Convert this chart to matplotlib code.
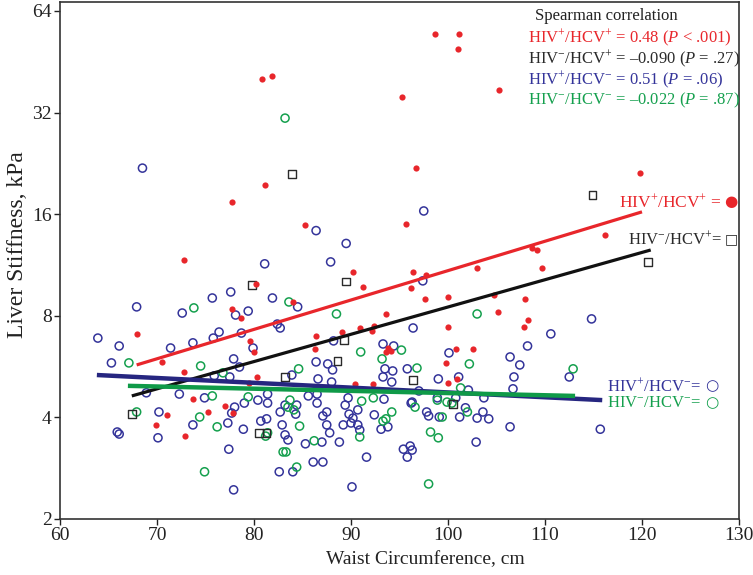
import matplotlib
matplotlib.use('Agg')
import matplotlib.pyplot as plt

plt.rcParams['font.family'] = ['Liberation Serif', 'DejaVu Sans']
plt.rcParams['mathtext.fontset'] = 'custom'
plt.rcParams['mathtext.rm'] = 'Liberation Serif'
plt.rcParams['mathtext.it'] = 'Liberation Serif:italic'
plt.rcParams['mathtext.bf'] = 'Liberation Serif:bold'

# HIV+/HCV+ (red dots): waist cm, liver stiffness kPa
pp_waist = [80.8, 81.9, 95.3, 98.7, 101.1, 101.0, 105.3, 81.1, 77.7, 96.7, 119.8, 85.3,
            95.7, 116.2, 72.8, 90.2, 96.4, 103.0, 109.7, 97.7, 108.7, 109.2, 91.2, 80.2,
            84.0, 77.7, 78.7, 67.9, 79.6, 80.0, 93.6, 86.4, 86.3, 89.1, 90.9, 92.4,
            92.2, 93.8, 94.1, 93.6, 70.5, 72.8, 80.3, 79.5, 90.4, 92.3, 73.7, 77.0,
            75.3, 77.8, 71.0, 69.9, 72.9, 96.2, 97.6, 100.0, 100.0, 104.7, 105.2, 107.9,
            108.2, 107.8, 100.8, 102.6, 99.8, 100.9, 100.0]
pp_ls = [40.3, 41.1, 35.6, 54.7, 54.7, 49.4, 37.3, 19.5, 17.4, 21.9, 21.2, 14.9,
         15.0, 13.9, 11.7, 10.8, 10.8, 11.1, 11.1, 10.6, 12.7, 12.5, 9.74, 9.94,
         8.79, 8.38, 7.88, 7.07, 6.74, 6.25, 8.10, 6.97, 6.38, 7.16, 7.36, 7.46,
         7.21, 6.42, 6.29, 6.25, 5.84, 5.45, 5.27, 5.06, 5.02, 5.02, 4.53, 4.32,
         4.15, 4.12, 4.07, 3.80, 3.52, 9.67, 8.97, 9.09, 7.41, 9.22, 8.21, 8.97,
         7.77, 7.41, 6.38, 6.38, 5.80, 5.20, 5.06]

# HIV-/HCV+ (black squares)
np_waist = [83.9, 114.9, 120.6, 89.5, 79.8, 89.3, 88.6, 83.2, 67.4, 80.5, 81.3, 96.4, 100.5]
np_ls = [21.05, 18.2, 11.55, 10.1, 9.87, 6.78, 5.88, 5.27, 4.09, 3.60, 3.60, 5.16, 4.38]

# HIV+/HCV- (blue circles)
pn_waist = [68.5, 97.5, 86.4, 89.5, 87.9, 81.1, 63.9, 66.1, 65.3, 67.9, 72.6, 75.7,
            77.6, 78.1, 79.4, 81.9, 84.5, 76.4, 75.8, 73.7, 71.4, 78.7, 79.9, 82.4,
            82.7, 77.9, 78.5, 75.9, 77.5, 83.9, 88.2, 86.4, 87.6, 88.1, 86.6, 88.0,
            93.3, 94.4, 93.5, 94.3, 94.2, 93.3, 68.9, 72.3, 74.9, 81.4, 79.0, 80.4,
            81.4, 85.6, 86.5, 84.4, 83.2, 82.7, 84.3, 87.5, 87.1, 89.4, 89.8, 90.7,
            90.2, 92.4, 89.7, 70.2, 78.0, 77.7, 77.3, 73.7, 80.7, 81.3, 78.9, 82.9,
            87.5, 89.2, 90.0, 90.7, 90.9, 93.1, 93.8, 83.2, 83.5, 85.3, 87.0, 87.8,
            88.8, 65.9, 66.1, 70.1, 77.4, 86.1, 87.1, 82.6, 84.0, 91.6, 77.9, 90.1,
            95.4, 96.1, 96.3, 95.8, 97.4, 96.4, 100.1, 108.2, 110.6, 114.8, 106.4, 107.4,
            106.8, 106.7, 112.5, 95.8, 99.0, 101.1, 102.1, 103.7, 100.8, 96.2, 97.8, 98.0,
            98.9, 99.1, 101.2, 101.8, 103.0, 103.6, 104.2, 106.4, 102.9, 115.7, 97.0, 96.3,
            86.5, 93.4]
pn_ls = [21.9, 16.35, 14.3, 13.1, 11.55, 11.4, 6.87, 6.51, 5.80, 8.50, 8.15, 9.03,
         9.41, 8.04, 8.26, 9.03, 8.50, 7.16, 6.87, 6.65, 6.42, 7.11, 6.42, 7.56,
         7.36, 5.96, 5.64, 5.31, 5.27, 5.34, 6.74, 5.84, 5.76, 5.53, 5.20, 5.09,
         6.60, 6.51, 5.57, 5.49, 5.09, 5.27, 4.73, 4.69, 4.57, 4.69, 4.41, 4.50,
         4.41, 4.63, 4.41, 4.35, 4.35, 4.15, 4.09, 4.15, 4.04, 4.35, 4.09, 4.21,
         3.98, 4.07, 4.57, 4.15, 4.29, 4.12, 3.85, 3.80, 3.90, 3.96, 3.69, 3.80,
         3.80, 3.80, 3.85, 3.80, 3.67, 3.69, 3.75, 3.55, 3.43, 3.34, 3.38, 3.60,
         3.38, 3.62, 3.57, 3.48, 3.22, 2.95, 2.95, 2.76, 2.76, 3.05, 2.44, 2.49,
         3.22, 3.29, 3.20, 3.05, 10.15, 7.36, 6.21, 6.51, 7.07, 7.83, 6.04, 5.72,
         5.27, 4.86, 5.27, 5.57, 5.20, 5.27, 4.82, 4.57, 4.57, 4.41, 4.15, 4.04,
         4.57, 4.01, 4.01, 4.27, 3.98, 4.15, 3.96, 3.75, 3.38, 3.69, 4.79, 4.44,
         4.69, 4.53]

# HIV-/HCV- (green circles)
nn_waist = [83.2, 73.8, 83.6, 88.5, 67.1, 74.5, 84.6, 76.8, 91.0, 93.2, 95.2, 67.9,
            75.7, 79.4, 74.4, 76.2, 83.7, 83.5, 84.1, 84.7, 91.1, 92.3, 94.2, 93.3,
            93.6, 90.9, 86.2, 81.4, 81.2, 83.0, 83.3, 84.4, 74.9, 103.0, 102.2, 112.9,
            96.8, 101.3, 96.6, 102.0, 99.4, 98.2, 99.0, 98.0, 100.4, 98.9, 99.9]
nn_ls = [30.8, 8.44, 8.79, 8.10, 5.80, 5.68, 5.57, 5.42, 6.25, 5.96, 6.33, 4.15,
         4.63, 4.60, 4.01, 3.75, 4.50, 4.29, 4.21, 3.77, 4.47, 4.57, 4.15, 3.90,
         3.96, 3.50, 3.41, 3.60, 3.52, 3.16, 3.16, 2.85, 2.76, 8.10, 5.76, 5.57,
         5.60, 4.89, 4.29, 4.15, 4.01, 3.62, 3.48, 2.54, 4.41, 4.50, 4.44]

# regression lines, order: HIV+/HCV+, HIV-/HCV+, HIV+/HCV-, HIV-/HCV-
fit_x0 = [67.9, 67.4, 63.8, 67.0]
fit_x1 = [120.0, 120.9, 115.9, 113.1]
fit_y0 = [5.72, 4.63, 5.34, 4.96]
fit_y1 = [16.25, 12.53, 4.50, 4.63]

rho_text = ['HIV$^{+}$/HCV$^{+}$ = 0.48 ($\\mathit{P}$ < .001)',
            'HIV$^{-}$/HCV$^{+}$ = \u20130.090 ($\\mathit{P}$ = .27)',
            'HIV$^{+}$/HCV$^{-}$ = 0.51 ($\\mathit{P}$ = .06)',
            'HIV$^{-}$/HCV$^{-}$ = \u20130.022 ($\\mathit{P}$ = .87)']

red = '#e8262b'
blk = '#2a2a2a'
blue = '#34349a'
green = '#15a04e'
line_cols = ['#e8262b', '#111111', '#262680', '#0f9a48']
line_w = [2.3, 2.3, 3.2, 3.2]

fig = plt.figure(figsize=(7.53, 5.75), dpi=100)
ax = fig.add_axes([0.0797, 0.0974, 0.9017, 0.8991])

ax.scatter(pn_waist, pn_ls, s=34, facecolors='none', edgecolors=blue, linewidths=1.1, zorder=2)
ax.scatter(nn_waist, nn_ls, s=34, facecolors='none', edgecolors=green, linewidths=1.1, zorder=2)
ax.scatter(np_waist, np_ls, s=30, marker='s', facecolors='none', edgecolors=blk, linewidths=1.0, zorder=3)
ax.scatter(pp_waist, pp_ls, s=20, color=red, linewidths=0, zorder=3)

for i in range(4):
    ax.plot([fit_x0[i], fit_x1[i]], [fit_y0[i], fit_y1[i]], color=line_cols[i],
            lw=line_w[i], solid_capstyle='butt', zorder=4)

ax.set_yscale('log', base=2)
ax.set_xlim(60, 130)
ax.set_ylim(2, 68)
ax.set_xticks([60, 70, 80, 90, 100, 110, 120, 130])
ax.set_yticks([2, 4, 8, 16, 32, 64])
ax.set_yticklabels(['2', '4', '8', '16', '32', '64'])
ax.minorticks_off()
ax.tick_params(direction='out', length=4, width=1, labelsize=14, pad=2, colors='#222222')
for sp in ax.spines.values():
    sp.set_linewidth(1.2)
    sp.set_color('#333333')

ax.set_xlabel('Waist Circumference, cm', fontsize=14, color='#222222')
ax.xaxis.set_label_coords(0.5376, -0.062)
ax.set_ylabel('Liver Stiffness, kPa', fontsize=17, color='#222222')
ax.yaxis.set_label_coords(-0.047, 0.53)

# correlation box text (figure pixel positions / 753x575)
fig.text(535 / 753, 1 - 16 / 575, 'Spearman correlation', fontsize=12, color='#222222',
         ha='left', va='center')
rho_cols = [red, blk, blue, green]
rho_y = [38, 59, 80, 100]
for t, c, yy in zip(rho_text, rho_cols, rho_y):
    fig.text(528 / 753, 1 - yy / 575, t, fontsize=12, color=c, ha='left', va='center')

# labels next to the fit lines
fig.text(721 / 753, 1 - 202 / 575, 'HIV$^{+}$/HCV$^{+}$ =', fontsize=12.5, color=red,
         ha='right', va='center')
fig.text(737 / 753, 1 - 201 / 575, '\u25cf', fontsize=11, color=red, ha='right',
         va='center', family='DejaVu Sans')
fig.text(722 / 753, 1 - 239 / 575, 'HIV$^{-}$/HCV$^{+}$=', fontsize=12, color=blk,
         ha='right', va='center')
fig.text(738 / 753, 1 - 239 / 575, '\u25a1', fontsize=10, color=blk, ha='right',
         va='center', family='DejaVu Sans')
fig.text(607 / 753, 1 - 386 / 575, 'HIV$^{+}$/HCV$^{-}$=', fontsize=12, color=blue,
         ha='left', va='center')
fig.text(718 / 753, 1 - 386 / 575, '\u25cb', fontsize=11, color=blue, ha='right',
         va='center', family='DejaVu Sans')
fig.text(607 / 753, 1 - 403 / 575, 'HIV$^{-}$/HCV$^{-}$=', fontsize=12, color=green,
         ha='left', va='center')
fig.text(718 / 753, 1 - 403 / 575, '\u25cb', fontsize=11, color=green, ha='right',
         va='center', family='DejaVu Sans')

plt.savefig('out.png', dpi=100)
